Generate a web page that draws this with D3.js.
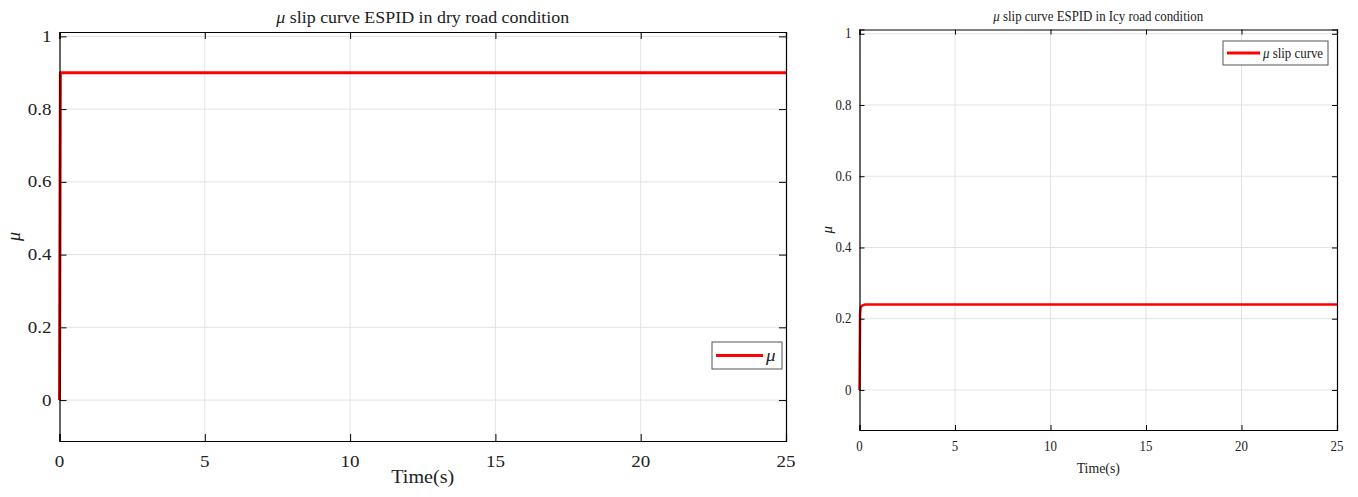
<!DOCTYPE html>
<html>
<head>
<meta charset="utf-8">
<script src="https://cdn.jsdelivr.net/npm/d3@7"></script>
<style>
  body { margin: 0; background: #fff; }
  svg { display: block; }
  text { font-family: "Liberation Serif", "DejaVu Serif", serif; }
</style>
</head>
<body>
<svg id="chart" width="1358" height="497"></svg>
<script>
// data
var xTicks = [0, 5, 10, 15, 20, 25];
var yTicks = [0, 0.2, 0.4, 0.6, 0.8, 1];
var yTickLabels = ["0", "0.2", "0.4", "0.6", "0.8", "1"];

var dryTime = [0, 0.03, 25];
var dryMu = [0, 0.9, 0.9];

var icyTime = [0, 0.03, 0.06, 0.12, 0.2, 0.3, 25];
var icyMu = [0, 0.215, 0.232, 0.236, 0.238, 0.24, 0.24];

var svg = d3.select("#chart");

function panel(opt) {
    var x = d3.scaleLinear().domain([0, 25]).range([opt.left, opt.right]);
    var y = d3.scaleLinear().domain([-0.1125, 1.012]).range([opt.bottom, opt.top]);
    var g = svg.append("g");

    // grid
    g.selectAll(".gx").data(xTicks.slice(1, -1)).enter().append("line")
        .attr("x1", function(d) { return x(d); }).attr("x2", function(d) { return x(d); })
        .attr("y1", opt.top).attr("y2", opt.bottom)
        .attr("stroke", "#e3e3e3").attr("stroke-width", 1);
    g.selectAll(".gy").data(yTicks).enter().append("line")
        .attr("y1", function(d) { return y(d); }).attr("y2", function(d) { return y(d); })
        .attr("x1", opt.left).attr("x2", opt.right)
        .attr("stroke", "#e3e3e3").attr("stroke-width", 1);

    // curve
    var pts = opt.time.map(function(t, i) { return [t, opt.mu[i]]; });
    g.append("path")
        .datum(pts)
        .attr("d", d3.line().x(function(d) { return x(d[0]); }).y(function(d) { return y(d[1]); }))
        .attr("fill", "none")
        .attr("stroke", "#ff0000")
        .attr("stroke-width", opt.lw)
        .attr("stroke-linejoin", "round");

    // axes (ticks inside, on all four sides)
    var tl = opt.tick;
    g.append("g").attr("transform", "translate(0," + opt.bottom + ")")
        .call(d3.axisTop(x).tickValues(xTicks).tickSize(tl).tickFormat(""));
    g.append("g").attr("transform", "translate(0," + opt.top + ")")
        .call(d3.axisBottom(x).tickValues(xTicks).tickSize(tl).tickFormat(""));
    g.append("g").attr("transform", "translate(" + opt.left + ",0)")
        .call(d3.axisRight(y).tickValues(yTicks).tickSize(tl).tickFormat(""));
    g.append("g").attr("transform", "translate(" + opt.right + ",0)")
        .call(d3.axisLeft(y).tickValues(yTicks).tickSize(tl).tickFormat(""));
    g.selectAll(".domain").attr("stroke", "#000").attr("stroke-width", 1.2);
    g.selectAll(".tick line").attr("stroke", "#000");

    function txt(px, py, s, size, anchor) {
        return g.append("text")
            .attr("transform", "translate(" + px + "," + py + ") scale(" + opt.sx + ",1)")
            .attr("text-anchor", anchor || "middle")
            .attr("font-size", size)
            .attr("fill", "#222")
            .text(s);
    }

    // tick labels
    xTicks.forEach(function(d) { txt(x(d), opt.xLabY, String(d), opt.fs); });
    yTicks.forEach(function(d, i) { txt(opt.left - 8, y(d) + opt.fs * 0.33, yTickLabels[i], opt.fs, "end"); });

    // title
    var t = txt((opt.left + opt.right) / 2, opt.titleY, "", opt.tfs);
    t.append("tspan").attr("font-style", "italic").text("μ");
    t.append("tspan").text(" slip curve ESPID in " + opt.cond + " road condition");

    // axis titles
    txt((opt.left + opt.right) / 2, opt.xTitleY, "Time(s)", opt.afs);
    g.append("text")
        .attr("transform", "translate(" + opt.yTitleX + "," + ((opt.top + opt.bottom) / 2) + ") rotate(-90)")
        .attr("text-anchor", "middle").attr("font-size", opt.afs).attr("font-style", "italic")
        .attr("fill", "#222").text("μ");

    // legend
    var L = opt.legend;
    g.append("rect").attr("x", L.x).attr("y", L.y).attr("width", L.w).attr("height", L.h)
        .attr("fill", "#fff").attr("stroke", "#555").attr("stroke-width", 1);
    g.append("line").attr("x1", L.x + 4).attr("x2", L.x + 4 + L.lineW)
        .attr("y1", L.y + L.h / 2).attr("y2", L.y + L.h / 2)
        .attr("stroke", "#ff0000").attr("stroke-width", 3);
    var lt = txt(L.x + L.lineW + 7, L.y + L.h / 2 + opt.lfs * 0.35, "", opt.lfs, "start");
    lt.append("tspan").attr("font-style", "italic").text("μ");
    if (L.label) lt.append("tspan").text(L.label);
}

panel({
    left: 59.5, right: 786, top: 32, bottom: 441,
    time: dryTime, mu: dryMu, lw: 3, tick: 7, sx: 1.12,
    fs: 17, tfs: 16, afs: 18, lfs: 17,
    xLabY: 467, titleY: 23, xTitleY: 483, yTitleX: 20,
    cond: "dry",
    legend: {x: 712, y: 342, w: 70, h: 27, lineW: 47, label: ""}
});

panel({
    left: 859.5, right: 1337, top: 29.5, bottom: 430,
    time: icyTime, mu: icyMu, lw: 2.5, tick: 5, sx: 0.92,
    fs: 14, tfs: 14, afs: 15, lfs: 14,
    xLabY: 451, titleY: 21, xTitleY: 473, yTitleX: 832,
    cond: "Icy",
    legend: {x: 1223, y: 41, w: 105, h: 24, lineW: 33, label: " slip curve"}
});
</script>
</body>
</html>
